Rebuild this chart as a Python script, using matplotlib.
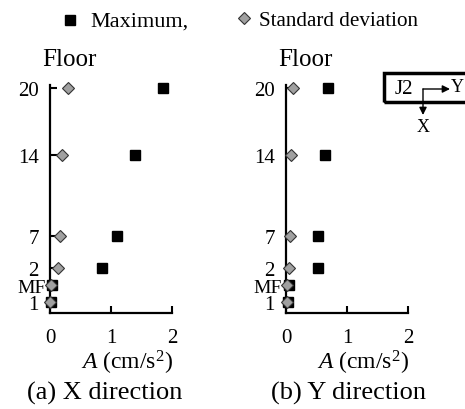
import numpy as np
import matplotlib
matplotlib.use("Agg")
import matplotlib.pyplot as plt
from matplotlib.patches import Rectangle, FancyArrowPatch
from matplotlib.transforms import ScaledTranslation

plt.rcParams.update({
    "font.family": "serif",
    "font.serif": ["Liberation Serif"],
    "mathtext.fontset": "custom",
    "mathtext.rm": "Liberation Serif",
    "mathtext.it": "Liberation Serif:italic",
    "font.size": 15,
})

floors = ["1", "MF", "2", "7", "14", "20"]
height = [0, 17, 34, 67, 148, 216]          # vertical position of each floor
x_max = [0.02, 0.03, 0.85, 1.10, 1.39, 1.85]
x_std = [0.00, 0.01, 0.13, 0.16, 0.20, 0.30]
y_max = [0.03, 0.05, 0.52, 0.52, 0.64, 0.69]
y_std = [0.01, 0.02, 0.05, 0.07, 0.08, 0.12]

fig = plt.figure(figsize=(4.65, 4.10), dpi=100)
axa = fig.add_axes([50/465, 96/410, 122/465, 228/410])
axb = fig.add_axes([286/465, 96/410, 122/465, 228/410])

for ax, mx, sd, cap, cx in [(axa, x_max, x_std, "(a) X direction", 0.45),
                             (axb, y_max, y_std, "(b) Y direction", 0.51)]:
    ax.plot(mx, height, "s", color="black", ms=7.5, ls="none", clip_on=False, zorder=3)
    ax.plot(sd, height, "D", mfc="#a0a0a0", mec="#333333", mew=0.8, ms=6.5,
            ls="none", clip_on=False, zorder=4)
    ax.set_xlim(0, 2)
    ax.set_ylim(-11, 219)
    ax.set_xticks([0, 1, 2])
    ax.set_yticks(height)
    ax.set_yticklabels(floors)
    ax.tick_params(direction="in", length=5, width=1.5, labelsize=15)
    ax.tick_params(axis="y", pad=8)
    ax.tick_params(axis="x", pad=11)
    # MF label sits closer to the axis
    mf = ax.get_yticklabels()[1]
    mf.set_fontsize(14)
    mf.set_transform(mf.get_transform() + ScaledTranslation(7/100, 0, fig.dpi_scale_trans))
    for s in ("top", "right"):
        ax.spines[s].set_visible(False)
    for s in ("left", "bottom"):
        ax.spines[s].set_linewidth(1.6)
    ax.text(0.16, 1.115, "Floor", transform=ax.transAxes, ha="center", va="center", fontsize=18)
    ax.text(0.63, -0.215, r"$\mathit{A}$ (cm/s$^2$)", transform=ax.transAxes,
            ha="center", va="center", fontsize=17)
    ax.text(cx, -0.35, cap, transform=ax.transAxes, ha="center", va="center", fontsize=19)

# legend row at top
fig.lines.append(plt.Line2D([70/465], [1 - 21/410], marker="s", color="black", ms=7.5,
                            transform=fig.transFigure))
fig.text(90/465, 1 - 22/410, "Maximum,", va="center", fontsize=16)
fig.lines.append(plt.Line2D([244/465], [1 - 19/410], marker="D", mfc="#a0a0a0",
                            mec="#333333", mew=0.8, ms=6, transform=fig.transFigure))
fig.text(259/465, 1 - 22/410, "Standard deviation", va="center", fontsize=15.2)

# J2 orientation box
fig.patches.append(Rectangle((384/465, 1 - 103/410), 100/465, 29/410, fill=False,
                             lw=2.5, ec="black", transform=fig.transFigure, clip_on=False))
fig.text(395/465, 1 - 89/410, "J2", va="center", fontsize=15)
ox, oy = 423/465, 1 - 90/410
fig.add_artist(FancyArrowPatch((ox, oy), (450/465, oy), transform=fig.transFigure,
                               arrowstyle="-|>", mutation_scale=11, lw=1,
                               shrinkA=0, shrinkB=0, color="black"))
fig.add_artist(FancyArrowPatch((ox, oy), (ox, 1 - 116/410), transform=fig.transFigure,
                               arrowstyle="-|>", mutation_scale=11, lw=1,
                               shrinkA=0, shrinkB=0, color="black"))
fig.text(451/465, 1 - 88/410, "Y", va="center", fontsize=13)
fig.text(ox, 1 - 127/410, "X", ha="center", va="center", fontsize=13)

fig.savefig("out.png", dpi=100)
